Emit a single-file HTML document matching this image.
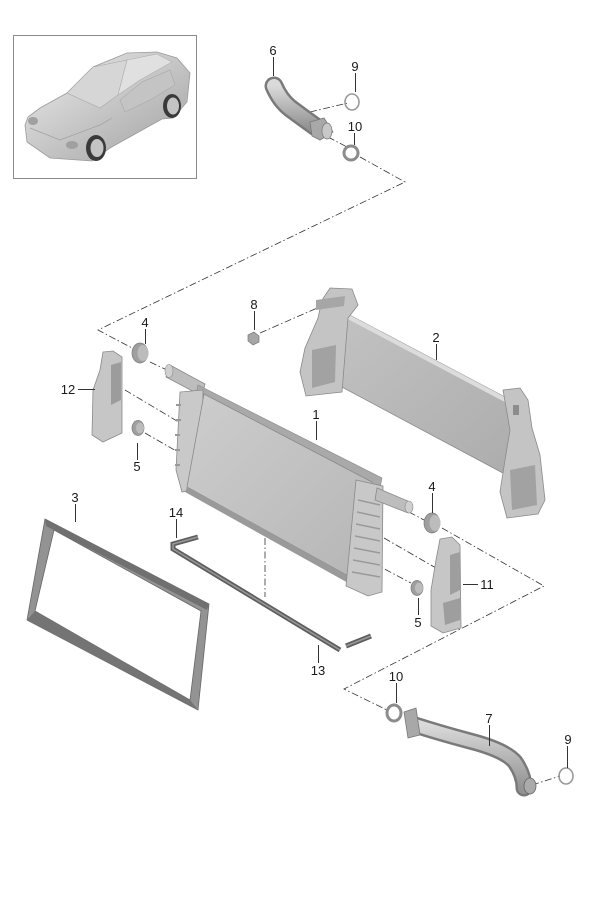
<!DOCTYPE html>
<html><head><meta charset="utf-8"><style>
html,body{margin:0;padding:0;background:#fff;}
svg{display:block;}
text{font-family:"Liberation Sans",Arial,sans-serif;font-size:13px;fill:#1a1a1a;}
</style></head><body>
<svg width="600" height="900" viewBox="0 0 600 900" xmlns="http://www.w3.org/2000/svg">
<defs>
<linearGradient id="car" x1="0" y1="0" x2="1" y2="1">
<stop offset="0" stop-color="#ececec"/><stop offset="0.5" stop-color="#c6c6c6"/><stop offset="1" stop-color="#a0a0a0"/></linearGradient>
<linearGradient id="core" x1="0" y1="0" x2="1" y2="1">
<stop offset="0" stop-color="#cdcdcd"/><stop offset="1" stop-color="#b6b6b6"/></linearGradient>
<linearGradient id="plate" x1="0" y1="0" x2="1" y2="1">
<stop offset="0" stop-color="#c2c2c2"/><stop offset="1" stop-color="#acacac"/></linearGradient>
<linearGradient id="hose" x1="0" y1="0" x2="0" y2="1">
<stop offset="0" stop-color="#dadada"/><stop offset="1" stop-color="#939393"/></linearGradient>
</defs>

<!-- car box -->
<rect x="13.5" y="35.5" width="183" height="143" fill="#fff" stroke="#8a8a8a" stroke-width="1"/>
<path d="M25,125 L27,142 L50,158 L92,161 L110,148 L162,119 L173,118 L187,102 L190,73 L177,58 L157,52 L127,53 L93,67 L67,93 L40,108 L28,117 Z" fill="url(#car)" stroke="#9a9a9a" stroke-width="0.8"/>
<path d="M67,93 L93,67 L127,60 L118,95 L100,108 Z" fill="#d6d6d6" stroke="#a8a8a8" stroke-width="0.6"/>
<path d="M127,60 L157,54 L172,62 L140,80 L118,95 Z" fill="#e0e0e0" stroke="#b0b0b0" stroke-width="0.6"/>
<path d="M120,100 L142,82 L170,70 L175,85 L150,100 L125,112 Z" fill="#c4c4c4" stroke="#a0a0a0" stroke-width="0.5"/>
<path d="M30,128 L60,140 L100,125 L112,118" fill="none" stroke="#a0a0a0" stroke-width="0.7"/>
<ellipse cx="96" cy="148" rx="10" ry="13" fill="#3a3a3a"/><ellipse cx="97" cy="148" rx="6.5" ry="9" fill="#c4c4c4"/>
<ellipse cx="172" cy="106" rx="9" ry="12" fill="#3a3a3a"/><ellipse cx="173" cy="106" rx="6" ry="8.5" fill="#c4c4c4"/>
<ellipse cx="33" cy="121" rx="5" ry="4" fill="#a0a0a0"/><ellipse cx="72" cy="145" rx="6" ry="4" fill="#a0a0a0"/>

<!-- dash-dot connector lines -->
<g fill="none" stroke="#333" stroke-width="0.8" stroke-dasharray="7 2.5 1.5 2.5">
<path d="M310,112 L348,103"/>
<path d="M328,137 L347,147"/>
<path d="M360,157 L405,182 L98,330 L132,348"/>
<path d="M150,362 L167,370"/>
<path d="M125,390 L182,424"/>
<path d="M145,433 L178,452"/>
<path d="M260,333 L347,295"/>
<path d="M409,512 L424,520"/>
<path d="M442,528 L544,586 L344,689 L387,710"/>
<path d="M384,538 L436,568"/>
<path d="M373,563 L411,583"/>
<path d="M265,538 L265,597"/>
<path d="M532,785 L560,776"/>
</g>

<!-- bracket 2 -->
<path d="M340,310 L520,405 L516,480 L340,386 Z" fill="url(#plate)" stroke="#8a8a8a" stroke-width="0.8"/>
<path d="M340,310 L520,405 L520,410 L340,315 Z" fill="#dcdcdc"/>
<path d="M330,288 L352,289 L358,305 L348,318 L342,392 L306,396 L300,372 L305,348 L318,318 L322,300 Z" fill="#c4c4c4" stroke="#8a8a8a" stroke-width="0.8"/>
<path d="M312,350 L336,345 L335,382 L312,388 Z" fill="#a2a2a2"/>
<path d="M316,300 L345,296 L344,306 L316,310 Z" fill="#a6a6a6"/>
<path d="M503,390 L520,388 L528,400 L532,428 L540,455 L545,500 L538,514 L507,518 L500,492 L505,460 L510,430 Z" fill="#c4c4c4" stroke="#8a8a8a" stroke-width="0.8"/>
<path d="M510,470 L535,465 L537,505 L512,510 Z" fill="#a2a2a2"/>
<rect x="513" y="405" width="6" height="10" fill="#8c8c8c"/>

<!-- radiator 1 -->
<path d="M170,365 L205,384 L202,396 L166,377 Z" fill="#bdbdbd" stroke="#8a8a8a" stroke-width="0.8"/>
<ellipse cx="169" cy="371" rx="4" ry="6.5" fill="#d0d0d0" stroke="#8a8a8a" stroke-width="0.6"/>
<path d="M198,385 L382,478 L380,488 L196,394 Z" fill="#a9a9a9" stroke="#888" stroke-width="0.6"/>
<path d="M180,392 L203,390 L202,488 L182,492 L176,470 Z" fill="#c9c9c9" stroke="#8a8a8a" stroke-width="0.8"/>
<g stroke="#999" stroke-width="2"><path d="M176,405 h5"/><path d="M176,420 h5"/><path d="M175,435 h5"/><path d="M175,450 h5"/><path d="M175,465 h5"/></g>
<path d="M204,394 L372,482 L352,578 L187,487 Z" fill="url(#core)" stroke="#8a8a8a" stroke-width="0.8"/>
<path d="M187,487 L352,578 L350,584 L185,492 Z" fill="#9a9a9a"/>
<path d="M356,480 L383,486 L382,592 L368,596 L346,586 Z" fill="#c8c8c8" stroke="#8a8a8a" stroke-width="0.8"/>
<g stroke="#9a9a9a" stroke-width="1.5"><path d="M358,500 L380,505"/><path d="M357,512 L380,517"/><path d="M356,524 L380,529"/><path d="M355,536 L380,541"/><path d="M354,548 L380,553"/><path d="M353,560 L380,565"/><path d="M352,572 L380,577"/></g>
<path d="M377,488 L410,502 L408,513 L375,500 Z" fill="#bdbdbd" stroke="#8a8a8a" stroke-width="0.8"/>
<ellipse cx="409" cy="507" rx="4" ry="6" fill="#d0d0d0" stroke="#8a8a8a" stroke-width="0.6"/>

<!-- bracket 12 -->
<path d="M103,352 L113,351 L122,357 L122,433 L103,442 L92,435 L93,390 L100,370 Z" fill="#c6c6c6" stroke="#8a8a8a" stroke-width="0.8"/>
<path d="M111,365 L121,362 L121,400 L111,405 Z" fill="#9c9c9c"/>
<!-- bracket 11 -->
<path d="M440,539 L452,537 L460,545 L461,628 L443,633 L431,626 L431,590 L436,560 Z" fill="#c6c6c6" stroke="#8a8a8a" stroke-width="0.8"/>
<path d="M450,555 L460,552 L460,590 L450,595 Z" fill="#9e9e9e"/>
<path d="M443,603 L460,598 L460,620 L445,625 Z" fill="#9e9e9e"/>

<!-- bushings & nut -->
<ellipse cx="140" cy="353" rx="8" ry="10" fill="#9f9f9f" stroke="#777" stroke-width="0.7"/>
<ellipse cx="143" cy="353" rx="5.5" ry="8" fill="#bcbcbc"/>
<ellipse cx="138" cy="428" rx="6" ry="7.5" fill="#9f9f9f" stroke="#777" stroke-width="0.7"/>
<ellipse cx="140" cy="428" rx="4" ry="5.5" fill="#bcbcbc"/>
<ellipse cx="432" cy="523" rx="8" ry="10" fill="#9f9f9f" stroke="#777" stroke-width="0.7"/>
<ellipse cx="435" cy="523" rx="5.5" ry="8" fill="#bcbcbc"/>
<ellipse cx="417" cy="588" rx="6" ry="7.5" fill="#9f9f9f" stroke="#777" stroke-width="0.7"/>
<ellipse cx="419" cy="588" rx="4" ry="5.5" fill="#bcbcbc"/>
<polygon points="248,335 254,332 259,336 259,342 253,345 248,341" fill="#a6a6a6" stroke="#777" stroke-width="0.7"/>

<!-- frame 3 -->
<path fill-rule="evenodd" d="M45,519 L209,604 L198,710 L27,620 Z M54,530 L201,611 L190,700 L35,611 Z" fill="#939393" stroke="#666" stroke-width="0.8"/>
<path d="M45,519 L209,604 L207,610 L46,526 Z" fill="#707070"/>
<path d="M27,620 L35,611 L190,700 L198,710 Z" fill="#747474"/>

<!-- seal 14 / 13 -->
<g fill="none" stroke-linejoin="miter">
<path d="M198,537 L173,544 L173,549 L340,650" stroke="#5e5e5e" stroke-width="5"/>
<path d="M198,537 L173,544 L173,549 L340,650" stroke="#999" stroke-width="1.5"/>
<path d="M346,646 L371,636" stroke="#5e5e5e" stroke-width="5"/>
<path d="M346,646 L371,636" stroke="#999" stroke-width="1.5"/>
</g>

<!-- hose 6 -->
<path d="M274,86 Q280,100 290,108 Q302,117 316,127" fill="none" stroke="#7a7a7a" stroke-width="19" stroke-linecap="round"/>
<path d="M274,86 Q280,100 290,108 Q302,117 316,127" fill="none" stroke="url(#hose)" stroke-width="14" stroke-linecap="round"/>
<path d="M310,122 L324,118 L333,132 L320,140 L312,136 Z" fill="#a8a8a8" stroke="#777" stroke-width="0.8"/>
<ellipse cx="327" cy="131" rx="5" ry="8" fill="#c8c8c8" stroke="#777" stroke-width="0.7"/>

<!-- rings 9 -->
<ellipse cx="352" cy="102" rx="7" ry="8" fill="none" stroke="#999" stroke-width="1.6"/>
<ellipse cx="566" cy="776" rx="7" ry="8" fill="none" stroke="#999" stroke-width="1.6"/>
<!-- clamps 10 -->
<ellipse cx="351" cy="153" rx="7" ry="7" fill="none" stroke="#8c8c8c" stroke-width="3"/>
<ellipse cx="394" cy="713" rx="7" ry="8" fill="none" stroke="#8c8c8c" stroke-width="3"/>

<!-- hose 7 -->
<path d="M415,725 Q440,733 470,741 Q505,750 515,762 Q524,775 524,788" fill="none" stroke="#7a7a7a" stroke-width="17" stroke-linecap="round"/>
<path d="M415,725 Q440,733 470,741 Q505,750 515,762 Q524,775 524,788" fill="none" stroke="url(#hose)" stroke-width="12" stroke-linecap="round"/>
<path d="M404,712 L416,708 L420,735 L408,738 Z" fill="#a8a8a8" stroke="#777" stroke-width="0.8"/>
<ellipse cx="530" cy="786" rx="6" ry="8" fill="#aaa" stroke="#666" stroke-width="0.8"/>

<!-- leader lines -->
<g stroke="#333" stroke-width="1">
<path d="M273.5,57 V76"/><path d="M355.5,73 V92"/><path d="M354.5,133 V145"/>
<path d="M254.5,311 V330"/><path d="M145.5,329 V344"/><path d="M436.5,344 V360"/>
<path d="M78,389.5 H95"/><path d="M316.5,421 V440"/><path d="M137.5,443 V460"/>
<path d="M75.5,504 V522"/><path d="M176.5,519 V538"/><path d="M432.5,493 V513"/>
<path d="M463,584.5 H478"/><path d="M418.5,598 V615"/><path d="M318.5,645 V663"/>
<path d="M396.5,683 V703"/><path d="M489.5,725 V746"/><path d="M567.5,746 V768"/>
</g>

<!-- labels -->
<g text-anchor="middle">
<text x="273" y="55">6</text>
<text x="355" y="71">9</text>
<text x="355" y="131">10</text>
<text x="254" y="309">8</text>
<text x="145" y="327">4</text>
<text x="436" y="342">2</text>
<text x="68" y="394">12</text>
<text x="316" y="419">1</text>
<text x="137" y="471">5</text>
<text x="75" y="502">3</text>
<text x="176" y="517">14</text>
<text x="432" y="491">4</text>
<text x="487" y="589">11</text>
<text x="418" y="627">5</text>
<text x="318" y="675">13</text>
<text x="396" y="681">10</text>
<text x="489" y="723">7</text>
<text x="568" y="744">9</text>
</g>
</svg>
</body></html>
